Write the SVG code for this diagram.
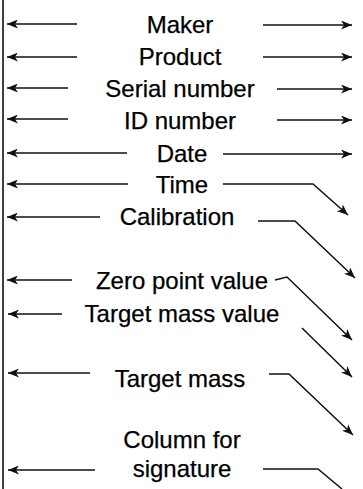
<svg xmlns="http://www.w3.org/2000/svg" width="363" height="489" viewBox="0 0 363 489">
<defs>
<style>
.t{font-family:"Liberation Sans",Arial,sans-serif;font-size:24px;fill:#000;stroke:#000;stroke-width:0.25;text-anchor:middle}
.c{fill:none;stroke:#111;stroke-width:1.5}
</style>
<marker id="ah" markerUnits="userSpaceOnUse" markerWidth="12" markerHeight="9" refX="11" refY="4.5" orient="auto">
<path d="M0,0 L11,4.5 L0,9 L3,4.5 Z" fill="#111"/>
</marker>
</defs>
<rect width="363" height="489" fill="#fff"/>
<line x1="3" y1="0" x2="3" y2="489" stroke="#111" stroke-width="1.6"/>
<g id="maker"><text class="t" x="180" y="33">Maker</text></g>
<g id="product"><text class="t" x="180" y="65">Product</text></g>
<g id="serial"><text class="t" x="180" y="97">Serial number</text></g>
<g id="id-number"><text class="t" x="180" y="129">ID number</text></g>
<g id="date"><text class="t" x="182" y="162">Date</text></g>
<g id="time"><text class="t" x="182" y="193">Time</text></g>
<g id="calibration"><text class="t" x="177" y="225">Calibration</text></g>
<g id="zero-point"><text class="t" x="182" y="289">Zero point value</text></g>
<g id="target-mass-value"><text class="t" x="182" y="322">Target mass value</text></g>
<g id="target-mass"><text class="t" x="180" y="387">Target mass</text></g>
<g id="signature"><text class="t" x="182" y="448">Column for</text><text class="t" x="182" y="477">signature</text></g>
<g id="connectors" class="c" marker-end="url(#ah)">
<line x1="77" y1="24" x2="7" y2="24"/>
<line x1="263" y1="25" x2="352" y2="25"/>
<line x1="77" y1="57" x2="7" y2="57"/>
<line x1="263" y1="57" x2="352" y2="57"/>
<line x1="68" y1="88" x2="7" y2="88"/>
<line x1="277" y1="89" x2="352" y2="89"/>
<line x1="68" y1="119" x2="7" y2="119"/>
<line x1="277" y1="120" x2="352" y2="120"/>
<line x1="127" y1="153" x2="7" y2="153"/>
<line x1="223" y1="154" x2="352" y2="154"/>
<line x1="128" y1="184" x2="7" y2="184"/>
<polyline points="223,184 313,184 348,215"/>
<line x1="100" y1="217" x2="7" y2="217"/>
<polyline points="258,221 295,221 355,278"/>
<line x1="72" y1="280" x2="7" y2="280"/>
<polyline points="275,280 287,277 352,340"/>
<line x1="62" y1="314" x2="8" y2="314"/>
<line x1="302" y1="328" x2="352" y2="377"/>
<line x1="90" y1="373" x2="8" y2="373"/>
<polyline points="269,374 289,374 353,435"/>
<line x1="95" y1="470" x2="8" y2="470"/>
<polyline points="263,469 318,469 342,489" marker-end="none"/>
</g>
</svg>
